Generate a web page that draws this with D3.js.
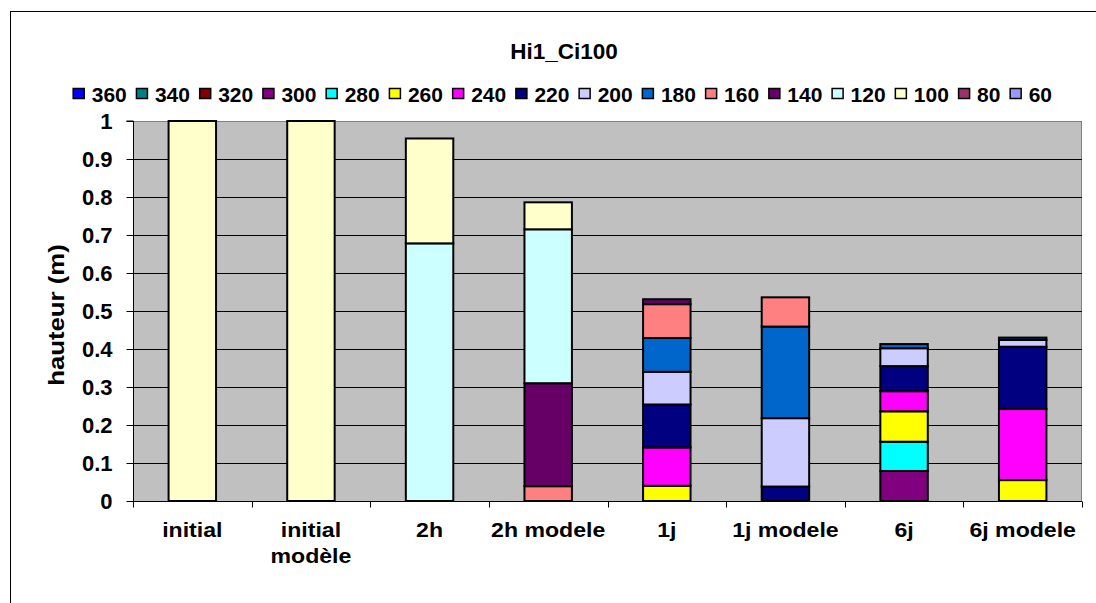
<!DOCTYPE html>
<html><head><meta charset="utf-8">
<script src="https://cdn.jsdelivr.net/npm/d3@7"></script>
<style>body{margin:0;background:#fff}svg{display:block}text{font-family:Arial,"Liberation Sans",sans-serif;font-weight:bold;fill:#000}</style>
</head><body>
<script>
const categories = ["initial", "initial\nmodèle", "2h", "2h modele", "1j", "1j modele", "6j", "6j modele"];
const seriesNames = ["360","340","320","300","280","260","240","220","200","180","160","140","120","100","80","60"];
const seriesColors = ["#0000FF","#008080","#800000","#800080","#00FFFF","#FFFF00","#FF00FF","#000080","#CCCCFF","#0066CC","#FF8080","#660066","#CCFFFF","#FFFFCC","#993366","#9999FF"];
const s360 = [0,0,0,0,0,0,0,0];
const s340 = [0,0,0,0,0,0,0,0];
const s320 = [0,0,0,0,0,0,0,0];
const s300 = [0,0,0,0,0,0,0.079,0];
const s280 = [0,0,0,0,0,0,0.077,0];
const s260 = [0,0,0,0,0.040,0,0.080,0.055];
const s240 = [0,0,0,0,0.101,0,0.053,0.187];
const s220 = [0,0,0,0,0.113,0.038,0.066,0.164];
const s200 = [0,0,0,0,0.086,0.180,0.047,0.018];
const s180 = [0,0,0,0,0.089,0.241,0.011,0.006];
const s160 = [0,0,0,0.039,0.089,0.077,0,0];
const s140 = [0,0,0,0.271,0.013,0,0,0];
const s120 = [0,0,0.678,0.405,0,0,0,0];
const s100 = [1,1,0.276,0.071,0,0,0,0];
const s80 = [0,0,0,0,0,0,0,0];
const s60 = [0,0,0,0,0,0,0,0];
const yTicks = [0,0.1,0.2,0.3,0.4,0.5,0.6,0.7,0.8,0.9,1];
const title = "Hi1_Ci100";
const yLabel = "hauteur (m)";

const values = [s360,s340,s320,s300,s280,s260,s240,s220,s200,s180,s160,s140,s120,s100,s80,s60];
const table = categories.map((c,i)=>{const o={cat:c}; seriesNames.forEach((k,j)=>o[k]=values[j][i]); return o;});

const W=1096,H=603;
const svg=d3.select("body").append("svg").attr("width",W).attr("height",H);
svg.append("rect").attr("x",10.5).attr("y",11.5).attr("width",1200).attr("height",700).attr("fill","#fff").attr("stroke","#000").attr("stroke-width",1);

const L=133,R=1082,T=121,B=501;
const x=d3.scaleBand().domain(categories).range([L,R]).paddingInner(0.6).paddingOuter(0.3);
const xb=d3.scaleBand().domain(categories).range([L,R]);
const y=d3.scaleLinear().domain([0,1]).range([B,T]);

svg.append("rect").attr("x",L).attr("y",T).attr("width",R-L).attr("height",B-T).attr("fill","#C0C0C0");
svg.append("line").attr("x1",L).attr("x2",R).attr("y1",T+0.5).attr("y2",T+0.5).attr("stroke","#808080");
svg.append("line").attr("x1",R-0.5).attr("x2",R-0.5).attr("y1",T).attr("y2",B).attr("stroke","#808080");
// gridlines
svg.append("g").selectAll("line").data(yTicks.filter(d=>d>0&&d<1)).join("line")
  .attr("x1",L).attr("x2",R).attr("y1",d=>Math.round(y(d))+0.5).attr("y2",d=>Math.round(y(d))+0.5)
  .attr("stroke","#000").attr("stroke-width",1);

const stack=d3.stack().keys(seriesNames)(table);
const g=svg.append("g");
stack.forEach((layer,j)=>{
  g.selectAll(null).data(layer.filter(d=>d[1]-d[0]>0)).join("rect")
   .attr("x",d=>x(d.data.cat)).attr("width",x.bandwidth())
   .attr("y",d=>y(d[1])).attr("height",d=>y(d[0])-y(d[1]))
   .attr("fill",seriesColors[j]).attr("stroke","#000").attr("stroke-width",2);
});

// y axis
const ya=svg.append("g").attr("transform",`translate(${L+0.5},0)`).call(d3.axisLeft(y).tickValues(yTicks).tickFormat(d=>d3.format("")(d)).tickSize(7).tickPadding(14));
ya.select(".domain").attr("stroke","#000").attr("d",`M-7,${T}H0V${B}`);
ya.selectAll("text").style("font-size","22px").style("font-family",'Arial,"Liberation Sans",sans-serif').style("font-weight","bold").attr("fill","#000").attr("dy","0.36em");
ya.selectAll(".tick line").attr("stroke","#000");
// x axis
const xa=svg.append("g").attr("transform",`translate(0,${B+0.5})`);
xa.append("line").attr("x1",L).attr("x2",R).attr("stroke","#000");
xa.selectAll(".tk").data(categories.concat(["__end"])).join("line").attr("class","tk")
  .attr("x1",(d,i)=>Math.round(L+i*xb.step())+0.5).attr("x2",(d,i)=>Math.round(L+i*xb.step())+0.5).attr("y1",0).attr("y2",6).attr("stroke","#000");
const xl=svg.append("g").selectAll("g").data(categories).join("g")
  .attr("transform",d=>`translate(${xb(d)+xb.bandwidth()/2},537) scale(1.1,1)`);
xl.each(function(d){const t=d3.select(this).append("text").attr("text-anchor","middle").style("font-size","21px");
  d.split("\n").forEach((s,i)=>t.append("tspan").attr("x",0).attr("dy",i?26:0).text(s));});

svg.append("g").attr("transform","translate(63.5,315) rotate(-90) scale(1.12,1)")
  .append("text").attr("text-anchor","middle").style("font-size","23px").text(yLabel);
svg.append("text").attr("x",564).attr("y",59).attr("text-anchor","middle").style("font-size","22.5px").text(title);

// legend
const lg=svg.append("g");
const legItems=[];
seriesNames.forEach((n,j)=>{
  const it=lg.append("g");
  it.append("rect").attr("x",0.5).attr("y",88.5).attr("width",11).attr("height",10).attr("fill",seriesColors[j]).attr("stroke","#000").attr("stroke-width",1.5);
  const t=it.append("text").attr("x",19).attr("y",101.5).style("font-size","21px").text(n);
  legItems.push({it,w:19+t.node().getComputedTextLength()});
});
const legStart=72.7, legEnd=1052;
const gap=(legEnd-legStart-d3.sum(legItems,d=>d.w))/(legItems.length-1);
let lx=legStart;
legItems.forEach(d=>{d.it.attr("transform",`translate(${lx},0)`); lx+=d.w+gap;});
</script>
</body></html>
